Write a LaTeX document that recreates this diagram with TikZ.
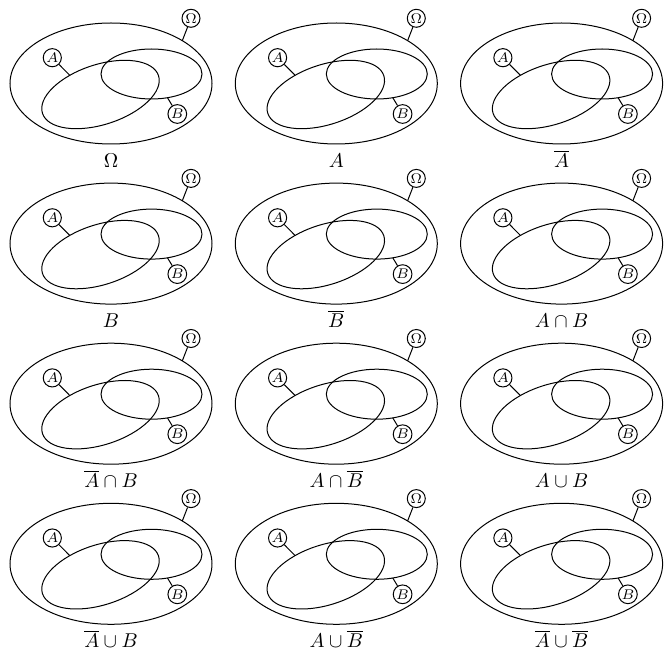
\documentclass[tikz,border=0pt]{standalone}
\usepackage{amsmath,amssymb}
\usetikzlibrary{shapes.geometric}
\begin{document}
\begin{tikzpicture}[x=0.5pt,y=-0.5pt,line width=0.5pt,
  set/.style={draw,ellipse,inner sep=0pt,outer sep=0pt},
  tag/.style={draw,circle,inner sep=0.5pt,minimum size=9pt,font=\scriptsize}]
\useasboundingbox (0,0) rectangle (665,652);
\foreach \capt [count=\i from 0] in {{$\Omega$},{$A$},{$\overline{A}$},
    {$B$},{$\overline{B}$},{$A\cap B$},
    {$\overline{A}\cap B$},{$A\cap\overline{B}$},{$A\cup B$},
    {$\overline{A}\cup B$},{$A\cup\overline{B}$},{$\overline{A}\cup\overline{B}$}}{
  \pgfmathsetmacro{\cx}{225.3*mod(\i,3)}
  \pgfmathsetmacro{\cy}{160.1*floor(\i/3)}
  \begin{scope}[shift={(\cx,\cy)}]
    \node[set,minimum width=101pt,minimum height=60.5pt] (om) at (111,83.5) {};
    \node[set,minimum width=61pt,minimum height=30pt,rotate=18] (sa) at (100.5,94.5) {};
    \node[set,minimum width=50.5pt,minimum height=25pt] (sb) at (151.5,74) {};
    \node[tag] (tom) at (191,18.3) {$\Omega$};
    \node[tag] (ta) at (52.3,57.7) {$A$};
    \node[tag] (tb) at (177.3,114) {$B$};
    \draw (tom) -- (om.31);
    \draw (ta) -- (sa.130);
    \draw (tb) -- (sb.-56);
    \node[anchor=base] (cap) at (111,167.5) {\capt};
  \end{scope}
}
\end{tikzpicture}
\end{document}
